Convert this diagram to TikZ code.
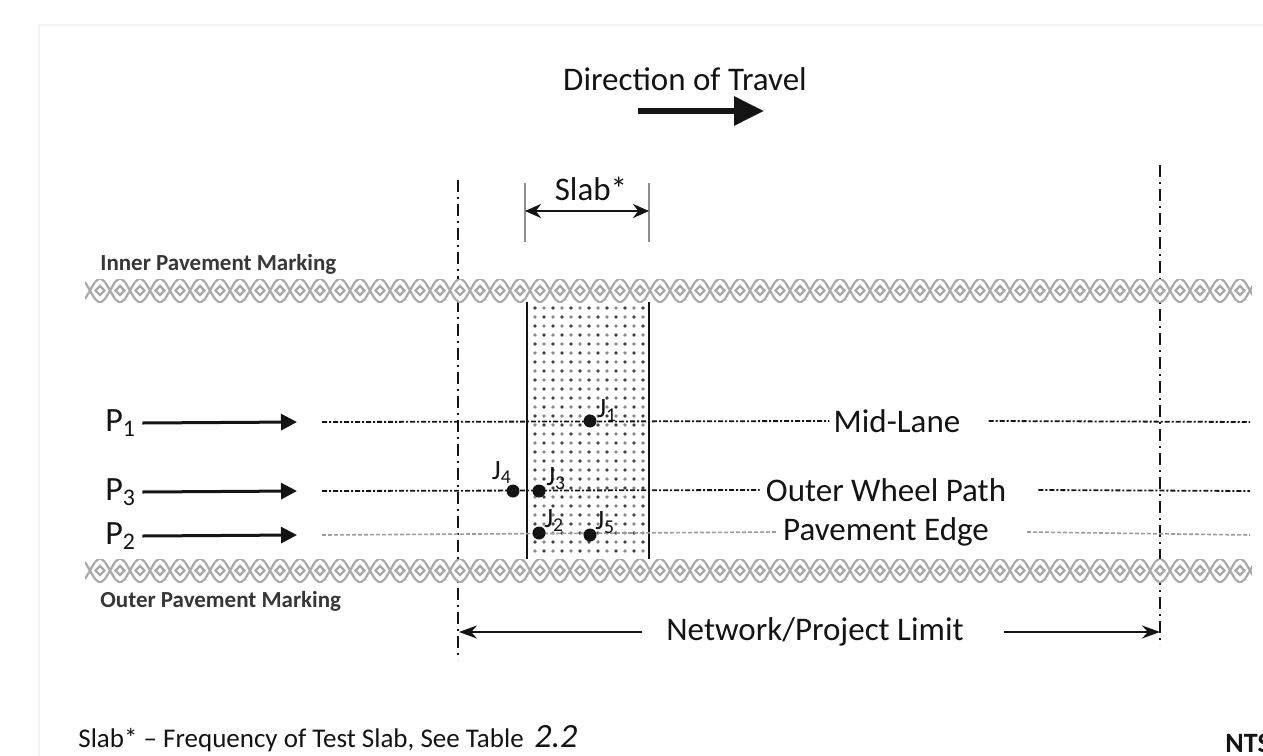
\documentclass[tikz,border=0pt]{standalone}
\usepackage{fontspec}
\setmainfont{Carlito}
\usetikzlibrary{arrows.meta,positioning,calc}
\definecolor{cInk}{HTML}{141414}
\definecolor{cMark}{HTML}{A8A8A8}
\definecolor{cTick}{HTML}{8E8E8E}
\definecolor{cEdge}{HTML}{9C9C9C}
\definecolor{cFrame}{HTML}{F4F4F4}
\tikzset{
  >=Stealth,
  lbl/.style  ={font=\fontsize{16.5}{19}\selectfont,text=cInk,inner sep=0pt},
  mlbl/.style ={font=\bfseries\fontsize{11.5}{13}\selectfont,text=cInk!85,
                inner sep=0pt,anchor=base west},
  plbl/.style ={font=\fontsize{17}{19}\selectfont,text=cInk,inner sep=0pt,anchor=west},
  jlbl/.style ={font=\fontsize{14}{16}\selectfont,text=cInk,inner sep=0pt},
  jdot/.style ={circle,fill=cInk,inner sep=0pt,minimum size=6.5pt},
  limit/.style={line width=0.9pt,cInk,dash pattern=on 6pt off 2.5pt on 1pt off 2.5pt},
  lane/.style ={line width=0.9pt,cInk,dash pattern=on 2.5pt off 1pt on 1pt off 1pt},
  pedge/.style={line width=0.8pt,cEdge,dash pattern=on 2pt off 1pt},
  ar/.style   ={-{Triangle[length=8pt,width=8pt]},line width=1.5pt,cInk},
  arl/.style  ={-{Stealth[length=9pt,width=6.5pt]},line width=1pt,cInk},
  ars/.style  ={{Stealth[length=8pt,width=7pt]}-{Stealth[length=8pt,width=7pt]},
                line width=1.3pt,cInk},
  arb/.style  ={-{Triangle[length=15pt,width=14pt]},line width=3pt,cInk},
  hatch/.style={cMark,line width=1.1pt},
}

\begin{document}
\begin{tikzpicture}[x=0.5pt,y=-0.5pt]
\useasboundingbox (0,0) rectangle (1263,755);
\clip (0,0) rectangle (1263,755);
\fill[white] (0,0) rectangle (1263,755);
\draw[cFrame,line width=1pt] (39,1000) -- (39,25) -- (1400,25);

% direction of travel
\node[lbl] (DT) at (685,79) {Direction of Travel};
\coordinate (DTa) at (638,111);
\coordinate (DTb) at (764,111);
\draw[arb] (DTa) -- (DTb);

% limits
\coordinate (LimLt) at (458,180);
\coordinate (LimLb) at (458,660);
\coordinate (LimRt) at (1160,165);
\coordinate (LimRb) at (1160,645);
\draw[limit] (LimLt) -- (LimLb);
\draw[limit] (LimRt) -- (LimRb);

% slab width
\coordinate (SLt) at (525,183);
\coordinate (SLb) at (525,242);
\coordinate (SRt) at (649,183);
\coordinate (SRb) at (649,242);
\draw[cTick,line width=1pt] (SLt) -- (SLb);
\draw[cTick,line width=1pt] (SRt) -- (SRb);
\node[lbl] (SL) at (591,189) {Slab*};
\draw[ars] (525,211) -- (649,211);

% slab
\foreach \x [count=\i] in {535,544,...,643}
  \foreach \y [count=\j] in {308,317,...,556} {
    \pgfmathsetmacro\shade{mod(\i+\j,2)==0 ? 80 : 50}
    \fill[cInk!\shade] (\x,\y) circle (0.9pt);
  }
\draw[cInk,line width=1.2pt] (527,302) -- (527,560);
\draw[cInk,line width=1.2pt] (649,302) -- (649,560);

% pavement markings
\foreach \yy in {279,559} {
  \fill[white] (85,\yy) rectangle (1252,\yy+23);
  \begin{scope}
  \clip (85,\yy) rectangle (1252,\yy+23);
  \foreach \x in {85,105,...,1245} {
    \draw[hatch] (\x,\yy+3) -- (\x+10,\yy+20);
    \draw[hatch] (\x,\yy+20) -- (\x+10,\yy+3);
    \draw[hatch] (\x+10,\yy+3) -- (\x+15,\yy-1) -- (\x+20,\yy+3);
    \draw[hatch] (\x+10,\yy+20) -- (\x+15,\yy+24) -- (\x+20,\yy+20);
    \draw[hatch] (\x+15,\yy+7) -- (\x+19.5,\yy+11.5) -- (\x+15,\yy+16) -- (\x+10.5,\yy+11.5) -- cycle;
  }
  \end{scope}
}
\node[mlbl] (IPM) at (100,270) {Inner Pavement Marking};
\node[mlbl] (OPM) at (100,607) {Outer Pavement Marking};

% mid-lane
\node[plbl] (P1) at (105,423) {P\textsubscript{1}};
\coordinate (P1b) at (297,422);
\draw[ar] ([xshift=3pt]P1.east) -- (P1b);
\node[lbl] (ML) at (897,421) {Mid-Lane};
\coordinate (L1a) at (322,422);
\coordinate (L1b) at (1250,422);
\draw[lane] (L1a) -- ([xshift=-2pt]ML.west);
\draw[lane] ([xshift=14pt]ML.east) -- (L1b);

% outer wheel path
\node[plbl] (P3) at (105,492) {P\textsubscript{3}};
\coordinate (P3b) at (297,491);
\draw[ar] ([xshift=3pt]P3.east) -- (P3b);
\node[lbl] (OWP) at (886,490) {Outer Wheel Path};
\coordinate (L3a) at (322,491);
\coordinate (L3b) at (1250,491);
\draw[lane] (L3a) -- ([xshift=-3pt]OWP.west);
\draw[lane] ([xshift=16pt]OWP.east) -- (L3b);

% pavement edge
\node[plbl] (P2) at (105,536) {P\textsubscript{2}};
\coordinate (P2b) at (297,535);
\draw[ar] ([xshift=3pt]P2.east) -- (P2b);
\node[lbl] (PE) at (886,532) {Pavement Edge};
\coordinate (L2a) at (322,535);
\coordinate (L2b) at (1250,535);
\draw[pedge] (L2a) -- ([xshift=-3pt]PE.west);
\draw[pedge] ([xshift=19pt]PE.east) -- (L2b);

% test points
\node[jdot] (J1) at (590,421) {};
\node[jlbl,above right=-3pt and 1pt of J1] (J1l) {J\textsubscript{1}};
\node[jdot] (J4) at (513,491) {};
\node[jlbl,above left=1pt and -2pt of J4] (J4l) {J\textsubscript{4}};
\node[jdot] (J3) at (539,491) {};
\node[jlbl,above right=-2pt and 1pt of J3] (J3l) {J\textsubscript{3}};
\node[jdot] (J2) at (539,533) {};
\node[jlbl,above right=-2pt and 0pt of J2] (J2l) {J\textsubscript{2}};
\node[jdot] (J5) at (590,535) {};
\node[jlbl,above right=-2pt and 0pt of J5] (J5l) {J\textsubscript{5}};

% network / project limit
\node[lbl] (NL) at (815,632) {Network/Project Limit};
\coordinate (NLa) at (459,632);
\coordinate (NLb) at (1160,632);
\draw[arl] ([xshift=-12pt]NL.west) -- (NLa);
\draw[arl] ([xshift=20pt]NL.east) -- (NLb);

% notes
\node[anchor=base west,inner sep=0pt,text=cInk,font=\fontsize{13.5}{16}\selectfont] (note)
  at (78,747) {Slab* -- Frequency of Test Slab, See Table \,{\fontsize{17}{19}\selectfont\itshape 2.2}};
\node[anchor=base west,inner sep=0pt,text=cInk,font=\bfseries\fontsize{14}{16}\selectfont] (NTS)
  at (1225,752) {NTS};
\end{tikzpicture}
\end{document}
